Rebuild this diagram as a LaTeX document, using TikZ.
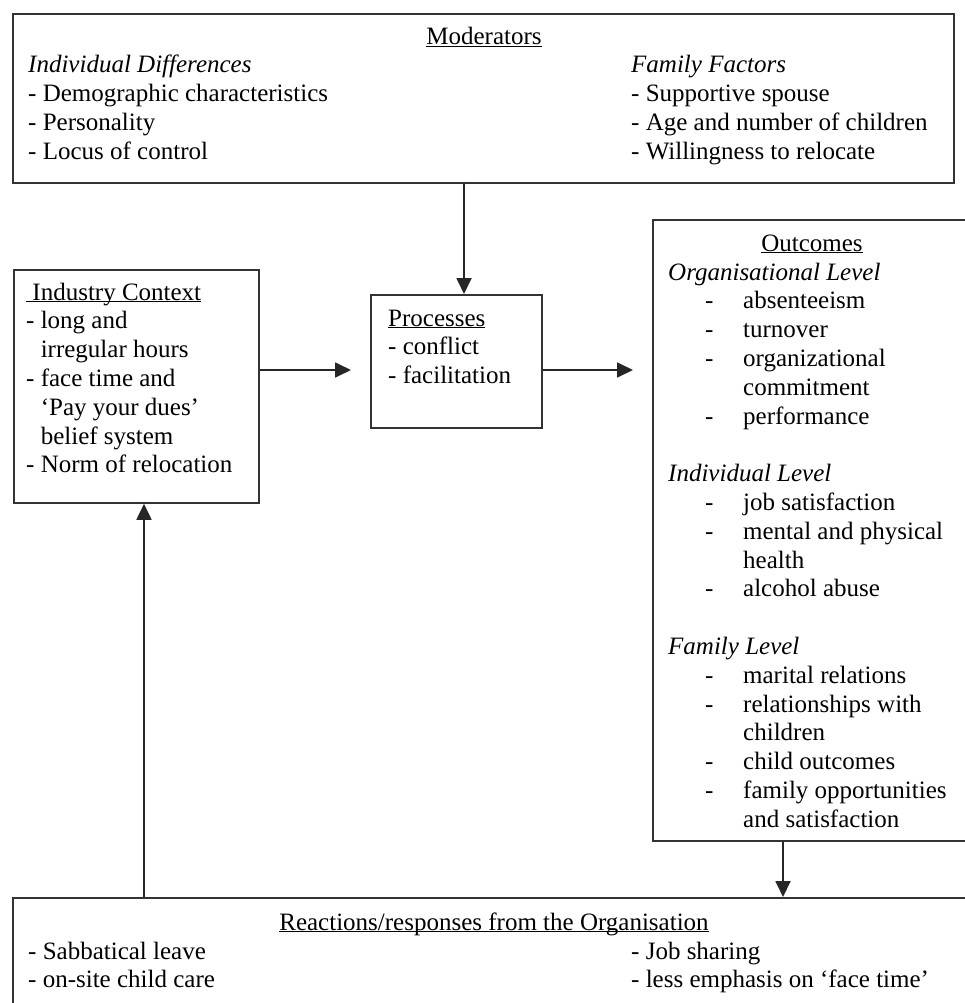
\documentclass[tikz,border=0pt]{standalone}
\usepackage{fontspec}
\setmainfont{Liberation Serif}
\usetikzlibrary{arrows.meta,calc}
\newcommand\ulx[1]{\underline{\smash{#1}}}
\newcommand\txtfont{\fontsize{25}{28.8}\selectfont}
\newcommand\itm[1]{\leavevmode\makebox[75pt][l]{\hspace*{37pt}-}#1}
\newcommand\cnt[1]{\leavevmode\hspace*{75pt}#1}
\begin{document}
\begin{tikzpicture}[x=1pt,y=-1pt,
  box/.style={draw=black!80, line width=1.8pt, inner sep=0pt, anchor=north west},
  txt/.style={inner sep=0pt, anchor=base west, font=\txtfont, text=black},
  ttl/.style={inner sep=0pt, anchor=base, font=\txtfont, text=black},
  arr/.style={draw=black!85, line width=1.8pt, -{Triangle[length=16pt,width=15pt]}}]
\useasboundingbox (0,0) rectangle (965,1003);
\clip (0,0) rectangle (965,1003);
\fill[white] (0,0) rectangle (965,1003);

% boxes
\node[box, minimum width=941pt, minimum height=169pt] (mod) at (12,13) {};
\node[box, minimum width=245pt, minimum height=233pt] (ind) at (13,269) {};
\node[box, minimum width=171pt, minimum height=133pt] (proc) at (370,294) {};
\node[box, minimum width=340pt, minimum height=621pt] (out) at (652,219) {};
\node[box, minimum width=990pt, minimum height=150pt] (react) at (12,897) {};

% helper coordinates
\coordinate (vx1) at (464,0);
\coordinate (hy) at (0,370);
\coordinate (vx2) at (783,0);
\coordinate (vx3) at (144,0);

% connectors
\draw[arr] (mod.south -| vx1) -- (proc.north -| vx1);
\draw[arr] (ind.east |- hy) -- ($(proc.west |- hy)+(-19,0)$);
\draw[arr] (proc.east |- hy) -- ($(out.west |- hy)+(-19,0)$);
\draw[arr] (out.south -| vx2) -- (react.north -| vx2);
\draw[arr] (react.north -| vx3) -- (ind.south -| vx3);

% Moderators
\node[ttl] (modT) at (484,45) {\ulx{Moderators}};
\node[txt] (modL) at (28,73) {\parbox[t]{400pt}{\raggedright
  \textit{Individual Differences}\\
  - Demographic characteristics\\
  - Personality\\
  - Locus of control}};
\node[txt] (modR) at (631,73) {\parbox[t]{320pt}{\raggedright
  \textit{Family Factors}\\
  - Supportive spouse\\
  - Age and number of children\\
  - Willingness to relocate}};

% Industry context
\node[txt] (indT) at (26,300) {\parbox[t]{230pt}{\raggedright
  \ulx{\ Industry Context}\\
  - long and\\
  \phantom{- }irregular hours\\
  - face time and\\
  \phantom{- }‘Pay your dues’\\
  \phantom{- }belief system\\
  - Norm of relocation}};

% Processes
\node[txt] (procT) at (388,326) {\parbox[t]{150pt}{\raggedright
  \ulx{Processes}\\
  - conflict\\
  - facilitation}};

% Outcomes
\node[ttl] (outT) at (812,251) {\ulx{Outcomes}};
\node[txt] (outL) at (668,280) {\parbox[t]{300pt}{\raggedright
  \textit{Organisational Level}\\
  \itm{absenteeism}\\
  \itm{turnover}\\
  \itm{organizational}\\
  \cnt{commitment}\\
  \itm{performance}\\
  \mbox{}\\
  \textit{Individual Level}\\
  \itm{job satisfaction}\\
  \itm{mental and physical}\\
  \cnt{health}\\
  \itm{alcohol abuse}\\
  \mbox{}\\
  \textit{Family Level}\\
  \itm{marital relations}\\
  \itm{relationships with}\\
  \cnt{children}\\
  \itm{child outcomes}\\
  \itm{family opportunities}\\
  \cnt{and satisfaction}}};

% Reactions
\node[ttl] (reT) at (494,930) {\ulx{Reactions/responses from the Organisation}};
\node[txt] (reL) at (28,959) {\parbox[t]{400pt}{\raggedright
  - Sabbatical leave\\
  - on-site child care}};
\node[txt] (reR) at (631,959) {\parbox[t]{330pt}{\raggedright
  - Job sharing\\
  - less emphasis on ‘face time’}};
\end{tikzpicture}
\end{document}
